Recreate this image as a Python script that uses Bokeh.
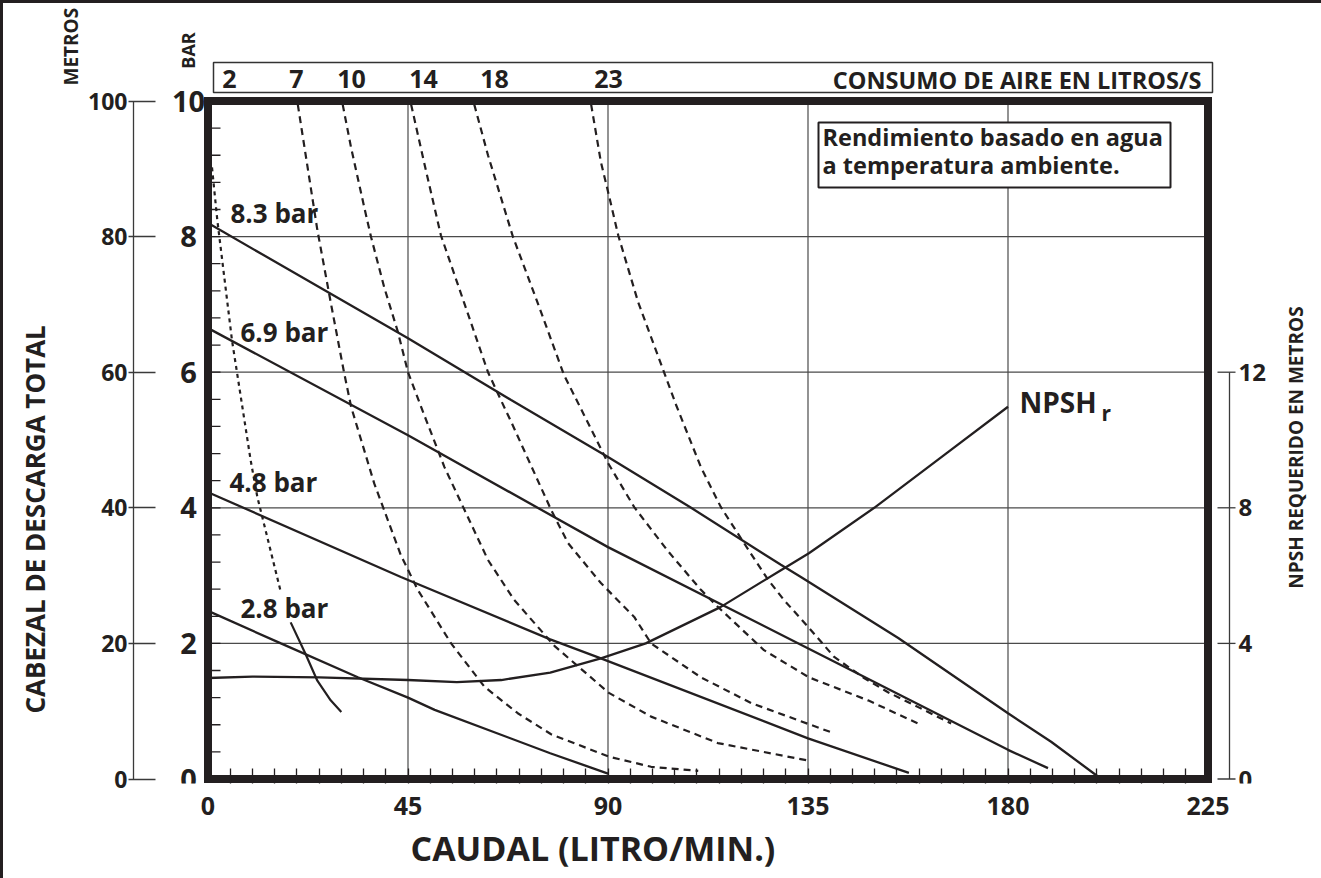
from math import pi
import numpy as np
from bokeh.plotting import figure
from bokeh.models import Range1d, LinearAxis, FixedTicker, Label, Title
from bokeh.embed import file_html
from bokeh.resources import INLINE
from bokeh.core.properties import value

# ---------------- data ----------------
flow_ticks = [0, 45, 90, 135, 180, 225]
bar_ticks = [0, 2, 4, 6, 8, 10]
metros_ticks = [0, 20, 40, 60, 80, 100]
npsh_ticks = [0, 4, 8, 12]
air_labels = ["2", "7", "10", "14", "18", "23"]
pressure_labels = ["8.3 bar", "6.9 bar", "4.8 bar", "2.8 bar"]

# discharge head (bar) vs flow (l/min) for each air inlet pressure
p83_flow = [0, 45, 68.2, 90, 108.7, 128.9, 133.4, 155.3, 180, 189.7, 201]
p83_head = [8.2, 6.5, 5.59, 4.75, 4.0, 3.16, 2.98, 2.08, 0.97, 0.55, 0.0]
p69_flow = [0, 45, 90, 133.4, 180, 189]
p69_head = [6.65, 5.07, 3.42, 1.98, 0.43, 0.16]
p48_flow = [0, 43.4, 77, 88.4, 135, 157.7]
p48_head = [4.23, 2.98, 2.06, 1.78, 0.6, 0.09]
p28_flow = [0, 16.4, 33.7, 45, 51, 77, 90]
p28_head = [2.48, 2.0, 1.5, 1.2, 1.02, 0.38, 0.08]

# NPSH required (m) vs flow
npsh_flow = [0, 10, 25, 45, 56, 66, 77, 88.4, 98.5, 115.3, 128.9, 135.2, 149.9, 166.5, 180]
npsh_m = [2.98, 3.02, 3.0, 2.92, 2.86, 2.92, 3.14, 3.56, 4.0, 5.07, 6.16, 6.66, 8.0, 9.64, 10.98]

# air consumption curves (l/s): head (bar) vs flow
air2_flow = [0.9, 2.1, 5.4, 9.6, 11.1, 16.3]
air2_head = [9.02, 8.24, 6.47, 4.7, 4.16, 2.78]
air2_tail_flow = [18.6, 21.9, 24.6, 27.6, 30.0]
air2_tail_head = [2.31, 1.85, 1.45, 1.16, 0.99]
air7_flow = [20.2, 23.2, 24.6, 27.7, 30.6, 32.2, 37.4, 43.4, 47.2, 54.7, 62.2, 69.7, 77.2, 90.2, 99.7, 110.3]
air7_head = [9.95, 8.69, 8.1, 7.0, 6.0, 5.49, 4.36, 3.3, 2.79, 2.0, 1.36, 0.97, 0.66, 0.33, 0.18, 0.12]
air10_flow = [30.3, 32.2, 35.2, 36.7, 39.7, 42.7, 45, 48.7, 53.2, 57.7, 63, 68.9, 78, 90.2, 99.7, 114.7, 135.2]
air10_head = [9.95, 9.31, 8.42, 7.99, 7.24, 6.6, 6.0, 5.36, 4.6, 3.97, 3.23, 2.64, 1.96, 1.27, 0.92, 0.53, 0.27]
air14_flow = [45.7, 48.6, 52.4, 57.6, 63, 65.9, 68.2, 77.2, 81, 88.4, 95.9, 99.7, 110.9, 122.2, 140.6]
air14_head = [9.95, 9.1, 8.02, 7.03, 6.0, 5.59, 5.27, 3.97, 3.48, 2.89, 2.39, 2.0, 1.5, 1.12, 0.68]
air18_flow = [59.9, 63, 68.6, 74.3, 80.1, 84.6, 90, 95.9, 103.5, 110.9, 114.7, 125.1, 135.2, 148.5, 160.4]
air18_head = [9.95, 9.2, 8.0, 7.0, 5.96, 5.37, 4.66, 4.01, 3.36, 2.79, 2.54, 1.9, 1.5, 1.16, 0.8]
air23_flow = [86.2, 88.4, 90.2, 92.3, 96.8, 102.6, 105.3, 110.9, 115.4, 120.6, 126, 129.6, 135.2, 140.9, 147.6, 153, 159.8, 167.2]
air23_head = [9.95, 9.1, 8.61, 8.02, 7.03, 6.0, 5.52, 4.6, 4.01, 3.48, 2.94, 2.64, 2.23, 1.8, 1.49, 1.28, 1.06, 0.82]

# ---------------- layout (page pixels) ----------------
W, H = 1321, 878
X0_PX, X225_PX = 207.5, 1207.5      # flow 0 and 225
Y0_PX, Y10_PX = 778.5, 100.5        # 0 bar and 10 bar
FL, FR, FT, FB = 133, W, 0, 783     # frame edges
SX = (X225_PX - X0_PX) / 225.0
SY = (Y0_PX - Y10_PX) / 10.0


def fx(px):
    return (px - X0_PX) / SX


def fy(py):
    return (Y0_PX - py) / SY


INK = "#231f20"
GRID = "#4a4a4a"
AX = "#3a3a3a"
FONT = "Open Sans"

p = figure(width=W, height=H, output_backend="svg", toolbar_location=None,
           x_range=Range1d(fx(FL), fx(FR)), y_range=Range1d(fy(FB), fy(FT)),
           min_border_left=FL, min_border_right=W - FR,
           min_border_top=FT, min_border_bottom=H - FB,
           y_axis_location=None)
p.outline_line_color = None
p.xgrid.visible = False
p.ygrid.visible = False
p.background_fill_color = None
p.border_fill_color = None
p.styles = {"box-shadow": "inset 3px 3px 0 0 #231f20"}

p.extra_y_ranges = {
    "metros": Range1d(fy(FB) * 10, fy(FT) * 10),
    "npsh": Range1d(fy(FB) * 2, fy(FT) * 2),
}


def style_labels(ax, size):
    ax.major_label_text_font = FONT
    ax.major_label_text_font_style = "bold"
    ax.major_label_text_font_size = size
    ax.major_label_text_color = INK


# bottom axis (flow)
xa = p.xaxis[0]
xa.ticker = FixedTicker(ticks=flow_ticks, minor_ticks=list(range(5, 225, 5)))
xa.bounds = (0, 225)
xa.axis_line_color = None
xa.major_tick_in = 0
xa.major_tick_out = 0
xa.minor_tick_in = FB - 768
xa.minor_tick_out = 0
xa.minor_tick_line_color = INK
xa.minor_tick_line_width = 1.3
xa.major_label_standoff = 13
style_labels(xa, "25px")

# left axis (metros)
la = LinearAxis(y_range_name="metros", ticker=FixedTicker(ticks=metros_ticks), bounds=(0, 100))
la.axis_line_color = AX
la.axis_line_width = 1.3
la.major_tick_in = 22
la.major_tick_out = 5
la.major_tick_line_color = AX
la.major_tick_line_width = 1.3
la.minor_tick_in = 0
la.minor_tick_out = 0
la.major_label_standoff = 1
style_labels(la, "23px")
p.add_layout(la, "left")


def side_title(side, text, size, offset, standoff, valign="bottom"):
    t = Title(text=text, align="left", offset=offset, standoff=standoff,
              vertical_align=valign, text_font=FONT, text_font_style="bold",
              text_font_size=size, text_color=INK)
    p.add_layout(t, side)


side_title("left", "METROS", "19px", 698, 4)
side_title("left", "CABEZAL DE DESCARGA TOTAL", "26px", 70, 2)
side_title("below", "CAUDAL (LITRO/MIN.)", "34px", 277, 10)

# grid lines inside the chart frame
hg = bar_ticks[1:-1]
vg = flow_ticks[1:-1]
p.segment(x0=[0] * len(hg), x1=[225] * len(hg), y0=hg, y1=hg, line_color=GRID, line_width=1.2)
p.segment(x0=vg, x1=vg, y0=[0] * len(vg), y1=[10] * len(vg), line_color=GRID, line_width=1.2)

# inner minor ticks on bar scale
bt = [round(v, 1) for v in np.arange(0.4, 10, 0.4)]
p.segment(x0=[0] * len(bt), x1=[fx(220)] * len(bt), y0=bt, y1=bt, line_color=INK, line_width=1.3)

# NPSH scale on the right (drawn on the npsh range)
n = len(npsh_ticks)
p.segment(x0=[fx(1229)], x1=[fx(1229)], y0=[npsh_ticks[0]], y1=[npsh_ticks[-1]],
          y_range_name="npsh", line_color=AX, line_width=1.3)
p.segment(x0=[fx(1217)] * n, x1=[fx(1235)] * n, y0=npsh_ticks, y1=npsh_ticks,
          y_range_name="npsh", line_color=AX, line_width=1.3)
p.text(x=[fx(1238)] * n, y=npsh_ticks, text=[str(t) for t in npsh_ticks], y_range_name="npsh",
       text_font=value(FONT), text_font_style="bold", text_font_size="24px",
       text_align="left", text_baseline="middle", text_color=INK)

# air consumption curves (dashed)
for fl, hd, dash in [(air2_flow, air2_head, "4 4"), (air7_flow, air7_head, "7 5"),
                     (air10_flow, air10_head, "7 5"), (air14_flow, air14_head, "7 5"),
                     (air18_flow, air18_head, "7 5"), (air23_flow, air23_head, "7 5")]:
    p.line(fl, hd, line_color=INK, line_width=2.2, line_dash=dash)
p.line(air2_tail_flow, air2_tail_head, line_color=INK, line_width=2.2)

# pressure curves
for fl, hd in [(p83_flow, p83_head), (p69_flow, p69_head), (p48_flow, p48_head), (p28_flow, p28_head)]:
    p.line(fl, hd, line_color=INK, line_width=2.3)

# NPSH curve
p.line(npsh_flow, npsh_m, y_range_name="npsh", line_color=INK, line_width=2.3)

# heavy chart border
p.quad(left=[0], right=[225], bottom=[0], top=[10], fill_color=None,
       line_color=INK, line_width=8, line_join="miter")

# air consumption box at the top
p.quad(left=[fx(213)], right=[fx(1212)], bottom=[fy(92)], top=[fy(62)], fill_color=None,
       line_color="#333333", line_width=1.5)
air_label_x = [fx(v) for v in [229, 296, 351, 423, 494, 608]]
p.text(x=air_label_x, y=[fy(78.5)] * len(air_labels), text=air_labels,
       text_font=value(FONT), text_font_style="bold", text_font_size="25px",
       text_align="center", text_baseline="middle", text_color=INK)

# bar tick labels
p.text(x=[fx(188)] * len(bar_ticks), y=bar_ticks, text=[str(t) for t in bar_ticks],
       text_font=value(FONT), text_font_style="bold", text_font_size="29px",
       text_align="center", text_baseline="middle", text_color=INK)

# note box
p.quad(left=[fx(818)], right=[fx(1170)], bottom=[fy(187)], top=[fy(122)], fill_color="white",
       line_color=INK, line_width=2)


def lab(text, px, py, size, align="left", angle=0.0):
    p.add_layout(Label(x=fx(px), y=fy(py), text=text, text_font=FONT, text_font_style="bold",
                       text_font_size=size, text_color=INK, text_align=align,
                       text_baseline="middle", angle=angle))


lab("CONSUMO DE AIRE EN LITROS/S", 1201, 79, "23.5px", align="right")
lab("Rendimiento basado en agua", 822, 136, "23.5px")
lab("a temperatura ambiente.", 822, 164, "23.5px")

for t, px, py in zip(pressure_labels, [230, 240, 229, 240], [212.5, 331, 481.5, 607]):
    lab(t, px, py, "26px")

lab("NPSH", 1019, 401, "28px")
lab("r", 1101, 412, "21px")

lab("BAR", 187, 50, "18px", align="center", angle=pi / 2)
lab("NPSH REQUERIDO EN METROS", 1295, 447, "19px", align="center", angle=pi / 2)

open("out.html", "w").write(file_html(p, INLINE))
